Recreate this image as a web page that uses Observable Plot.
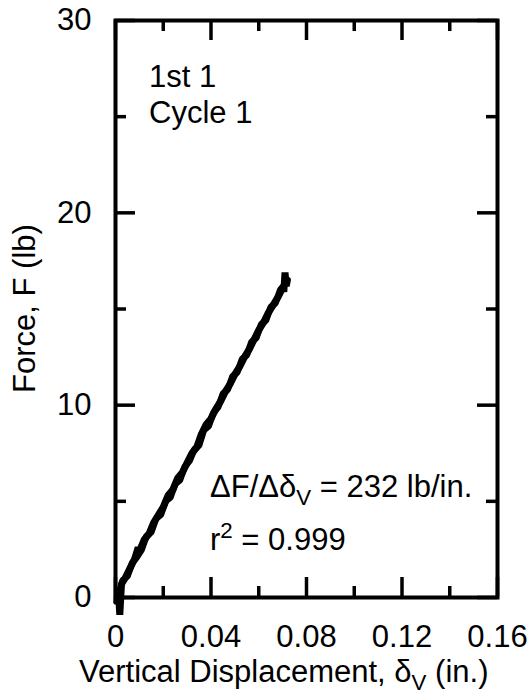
<!DOCTYPE html>
<html>
<head>
<meta charset="utf-8">
<script src="https://cdn.jsdelivr.net/npm/d3@7"></script>
<script src="https://cdn.jsdelivr.net/npm/@observablehq/plot@0.6"></script>
<style>
  html, body { margin: 0; padding: 0; background: white; }
  svg text { font-family: "Liberation Sans", Arial, Helvetica, sans-serif; }
</style>
</head>
<body>
<div id="chart"></div>
<script>
// ---- data ----
const disp = [0.0005, 0.0012, 0.0018, 0.0025, 0.004, 0.006, 0.008, 0.0095, 0.010, 0.012, 0.014, 0.016, 0.018, 0.020,
  0.022, 0.024, 0.026, 0.028, 0.030, 0.032, 0.034, 0.036, 0.038, 0.040, 0.042, 0.044, 0.046, 0.048,
  0.050, 0.052, 0.054, 0.056, 0.058, 0.060, 0.062, 0.064, 0.066, 0.068, 0.070, 0.0705, 0.071, 0.0715, 0.072];
const force = [-0.2, 0.4, -0.9, 0.7, 1.0, 1.5, 2.0, 2.6, 2.4, 3.0, 3.3, 3.9, 4.3, 4.7,
  5.3, 5.6, 6.2, 6.5, 7.0, 7.5, 7.8, 8.5, 9.0, 9.3, 9.8, 10.2, 10.7, 11.1,
  11.6, 12.0, 12.5, 12.9, 13.4, 13.9, 14.3, 14.8, 15.2, 15.6, 16.1, 15.9, 16.9, 16.2, 16.5];
const dispBack = [0.001, 0.003, 0.005, 0.007, 0.009, 0.011, 0.013, 0.015, 0.017, 0.019, 0.021, 0.023, 0.025,
  0.027, 0.029, 0.031, 0.033, 0.035, 0.037, 0.039, 0.041, 0.043, 0.045, 0.047, 0.049, 0.051,
  0.053, 0.055, 0.057, 0.059, 0.061, 0.063, 0.065, 0.067, 0.069, 0.071];
const forceBack = [0.0, 0.9, 1.1, 1.8, 2.1, 2.5, 3.2, 3.4, 4.1, 4.3, 5.0, 5.2, 5.9,
  6.1, 6.8, 7.1, 7.7, 7.9, 8.7, 8.9, 9.6, 9.9, 10.6, 10.8, 11.5, 11.7,
  12.4, 12.6, 13.3, 13.5, 14.2, 14.4, 15.1, 15.3, 16.0, 16.3];

const xMajor = [0, 0.04, 0.08, 0.12, 0.16];
const xMinor = [0.02, 0.06, 0.10, 0.14];
const yMajor = [0, 10, 20, 30];
const yMinor = [5, 15, 25];
const xTickLabels = ["0", "0.04", "0.08", "0.12", "0.16"];
const yTickLabels = ["0", "10", "20", "30"];
const xTitle = ["Vertical Displacement, δ", "V", " (in.)"];
const yTitle = "Force, F (lb)";
const noteLines = ["1st 1", "Cycle 1"];
const slopeText = ["ΔF/Δδ", "V", " = 232 lb/in."];
const r2Text = ["r", "2", " = 0.999"];

const loading = disp.map((d, i) => ({d, f: force[i]}));
const unloading = dispBack.map((d, i) => ({d, f: forceBack[i]}));

const W = 532, H = 696;
const mt = 20, mr = 35, mb = 99, ml = 115;
const pw = W - ml - mr, ph = H - mt - mb;
const fs = 31;
const majorLen = 20, minorLen = 11, tickW = 3.5;

const chart = Plot.plot({
  width: W, height: H,
  marginTop: mt, marginRight: mr, marginBottom: mb, marginLeft: ml,
  style: {fontFamily: "Liberation Sans, Arial, sans-serif", fontSize: fs + "px", color: "black", background: "white", overflow: "visible"},
  x: {domain: [0, 0.16]},
  y: {domain: [0, 30]},
  marks: [
    Plot.line(unloading, {x: "d", y: "f", stroke: "black", strokeWidth: 6.5, strokeLinejoin: "miter"}),
    Plot.line(loading, {x: "d", y: "f", stroke: "black", strokeWidth: 7, strokeLinejoin: "miter"}),
    // inward ticks on all four sides
    Plot.tickX(xMajor, {x: d => d, insetTop: ph - majorLen, stroke: "black", strokeWidth: tickW}),
    Plot.tickX(xMinor, {x: d => d, insetTop: ph - minorLen, stroke: "black", strokeWidth: tickW}),
    Plot.tickX(xMajor, {x: d => d, insetBottom: ph - majorLen, stroke: "black", strokeWidth: tickW}),
    Plot.tickX(xMinor, {x: d => d, insetBottom: ph - minorLen, stroke: "black", strokeWidth: tickW}),
    Plot.tickY(yMajor, {y: d => d, insetRight: pw - majorLen, stroke: "black", strokeWidth: tickW}),
    Plot.tickY(yMinor, {y: d => d, insetRight: pw - minorLen, stroke: "black", strokeWidth: tickW}),
    Plot.tickY(yMajor, {y: d => d, insetLeft: pw - majorLen, stroke: "black", strokeWidth: tickW}),
    Plot.tickY(yMinor, {y: d => d, insetLeft: pw - minorLen, stroke: "black", strokeWidth: tickW}),
    Plot.axisX(xMajor, {anchor: "bottom", tickSize: 0, tickPadding: 27, label: null,
      tickFormat: (d, i) => xTickLabels[i], fontSize: fs}),
    Plot.axisY(yMajor, {anchor: "left", tickSize: 0, tickPadding: 24, label: null,
      tickFormat: (d, i) => yTickLabels[i], fontSize: fs}),
    Plot.frame({stroke: "black", strokeWidth: 4})
  ]
});
document.getElementById("chart").appendChild(chart);

const svg = d3.select(chart);
const g = svg.append("g").attr("fill", "black").attr("font-size", fs).attr("text-anchor", "start");

// text with a subscript/superscript middle part
function richText(x, y, parts, shift, anchor) {
  const t = g.append("text").attr("x", x).attr("y", y).attr("text-anchor", anchor || "start");
  t.append("tspan").text(parts[0]);
  t.append("tspan").attr("font-size", fs * 0.72).attr("dy", shift).text(parts[1]);
  t.append("tspan").attr("dy", -shift).text(parts[2]);
  return t;
}

// axis titles
richText(79, 682, xTitle, 8, "start");
g.append("text")
  .attr("transform", `translate(35, ${mt + ph / 2}) rotate(-90)`)
  .attr("text-anchor", "middle")
  .text(yTitle);

// annotations
g.append("text").attr("x", 149).attr("y", 87).text(noteLines[0]);
g.append("text").attr("x", 149).attr("y", 123).text(noteLines[1]);
richText(210, 497, slopeText, 8);
richText(210, 550, r2Text, -12);
</script>
</body>
</html>
